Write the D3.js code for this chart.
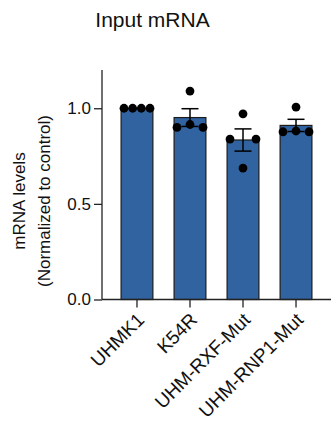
<!DOCTYPE html>
<html>
<head>
<meta charset="utf-8">
<script src="https://cdn.jsdelivr.net/npm/d3@7"></script>
<style>
  body { margin: 0; background: #fff; }
  svg { font-family: "Liberation Sans", Arial, Helvetica, sans-serif; }
</style>
</head>
<body>
<div id="chart"></div>
<script>
const width = 335;
const height = 428;

const groups = ["UHMK1", "K54R", "UHM-RXF-Mut", "UHM-RNP1-Mut"];
const uhmk1 = [1.0, 1.0, 1.0, 1.0];
const k54r = [0.90, 1.09, 0.915, 0.90];
const rxfMut = [0.839, 0.971, 0.687, 0.839];
const rnp1Mut = [0.877, 1.006, 0.881, 0.877];
const yTicks = [0, 0.5, 1.0];

const series = [uhmk1, k54r, rxfMut, rnp1Mut];

const stats = series.map((vals, i) => {
    const mean = d3.mean(vals);
    const sem = vals.length > 1 ? d3.deviation(vals) / Math.sqrt(vals.length) : 0;
    return { group: groups[i], mean: mean, sem: sem, vals: vals };
});

const margin = { left: 102, right: 4, top: 70, bottom: 128.5 };
const plotBottom = height - margin.bottom;

const x = d3.scaleBand()
    .domain(groups)
    .range([margin.left, 331])
    .paddingInner(0.4)
    .paddingOuter(0.36);

const y = d3.scaleLinear()
    .domain([0, 1.2])
    .range([plotBottom, margin.top]);

const svg = d3.select("#chart").append("svg")
    .attr("width", width)
    .attr("height", height);

// title
svg.append("text")
    .attr("x", 152.5)
    .attr("y", 26.5)
    .attr("text-anchor", "middle")
    .attr("font-size", 21)
    .attr("fill", "#111")
    .text("Input mRNA");

// y label
const yLab = svg.append("text")
    .attr("transform", `translate(0,${201}) rotate(-90)`)
    .attr("text-anchor", "middle")
    .attr("font-size", 17)
    .attr("fill", "#111");
yLab.append("tspan").attr("x", 0).attr("y", 25).text("mRNA levels");
yLab.append("tspan").attr("x", 0).attr("y", 49.5).text("(Normalized to control)");

// bars
svg.append("g")
    .selectAll("rect")
    .data(stats)
    .join("rect")
    .attr("x", d => x(d.group))
    .attr("width", x.bandwidth())
    .attr("y", d => y(d.mean))
    .attr("height", d => y(0) - y(d.mean))
    .attr("fill", "#3163a1")
    .attr("stroke", "#1b1b1b")
    .attr("stroke-width", 1.2);

// error bars (mean +/- SEM)
const capHalf = 8.5;
const err = svg.append("g")
    .attr("stroke", "#000")
    .attr("stroke-width", 1.5)
    .attr("fill", "none");

stats.forEach(d => {
    if (d.sem === 0) return;
    const cx = x(d.group) + x.bandwidth() / 2;
    err.append("line")
        .attr("x1", cx).attr("x2", cx)
        .attr("y1", y(d.mean + d.sem)).attr("y2", y(d.mean - d.sem));
    [d.mean + d.sem, d.mean - d.sem].forEach(v => {
        err.append("line")
            .attr("x1", cx - capHalf).attr("x2", cx + capHalf)
            .attr("y1", y(v)).attr("y2", y(v));
    });
});

// points: points at a similar level are spread side by side
const r = 4.4;
const spread = 26;
let points = [];
stats.forEach(d => {
    const cx = x(d.group) + x.bandwidth() / 2;
    let used = d.vals.map(() => false);
    d.vals.forEach((v, i) => {
        if (used[i]) return;
        let cluster = [];
        d.vals.forEach((w, j) => {
            if (!used[j] && Math.abs(w - v) < 0.05) {
                cluster.push(j);
                used[j] = true;
            }
        });
        const n = cluster.length;
        cluster.forEach((j, k) => {
            const off = n > 1 ? -spread / 2 + k * spread / (n - 1) : 0;
            points.push({ x: cx + off, v: d.vals[j] });
        });
    });
});

svg.append("g")
    .selectAll("circle")
    .data(points)
    .join("circle")
    .attr("cx", d => d.x)
    .attr("cy", d => y(d.v))
    .attr("r", r)
    .attr("fill", "#000");

// axes
const yAxis = svg.append("g")
    .attr("transform", `translate(${margin.left},0)`)
    .call(d3.axisLeft(y).tickValues(yTicks).tickFormat(d3.format(".1f")).tickSize(8).tickPadding(3));

const xAxis = svg.append("g")
    .attr("transform", `translate(0,${plotBottom})`)
    .call(d3.axisBottom(x).tickSize(8).tickFormat(""));

[yAxis, xAxis].forEach(a => {
    a.select(".domain").attr("stroke", "#222").attr("stroke-width", 1.3);
    a.selectAll(".tick line").attr("stroke", "#222").attr("stroke-width", 1.3);
});
yAxis.select(".domain").attr("d", `M0,${y(1.2)}V${y(0)}`);
xAxis.select(".domain").attr("d", `M${margin.left},0H331`);

yAxis.attr("font-size", 17).attr("font-family", null);
yAxis.selectAll(".tick text")
    .attr("font-size", 17)
    .attr("fill", "#111");

// rotated category labels
svg.append("g")
    .selectAll("text")
    .data(groups)
    .join("text")
    .attr("transform", d => `translate(${x(d) + x.bandwidth() / 2 + 8.5},${plotBottom + 21.5}) rotate(-45)`)
    .attr("text-anchor", "end")
    .attr("font-size", 19)
    .attr("fill", "#111")
    .text(d => d);
</script>
</body>
</html>
